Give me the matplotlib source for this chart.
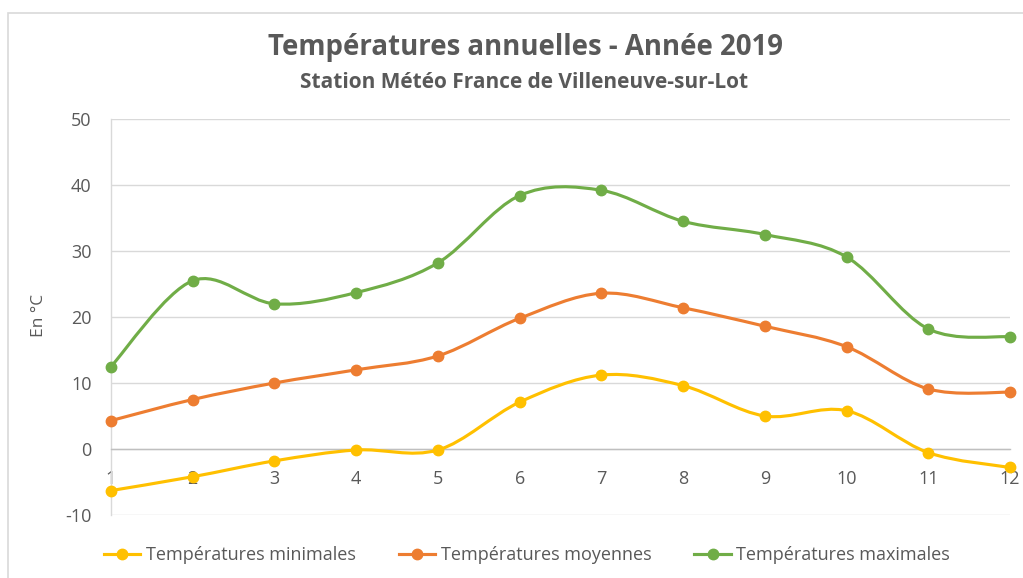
import numpy as np
import matplotlib
matplotlib.use("Agg")
from matplotlib import pyplot as plt
from matplotlib.path import Path
from matplotlib.patches import PathPatch, Rectangle
from matplotlib.lines import Line2D

plt.rcParams['font.family'] = ['Open Sans', 'DejaVu Sans']
plt.rcParams['axes.unicode_minus'] = False

months = [1, 2, 3, 4, 5, 6, 7, 8, 9, 10, 11, 12]
t_min = [-6.3, -4.2, -1.8, -0.15, -0.15, 7.1, 11.2, 9.6, 5.0, 5.8, -0.55, -2.8]
t_moy = [4.3, 7.5, 10.0, 12.0, 14.1, 19.8, 23.6, 21.4, 18.6, 15.5, 9.1, 8.6]
t_max = [12.5, 25.5, 22.0, 23.7, 28.2, 38.4, 39.2, 34.5, 32.5, 29.1, 18.2, 17.0]

series = [
    ("Températures minimales", t_min, "#FFC000"),
    ("Températures moyennes", t_moy, "#ED7D31"),
    ("Températures maximales", t_max, "#70AD47"),
]

TXT = "#595959"
GRID = "#D9D9D9"


def smooth_path(x, y):
    # excel-like smoothed line: catmull-rom turned into cubic bezier segments
    pts = np.column_stack([x, y]).astype(float)
    n = len(pts)
    verts = [pts[0]]
    codes = [Path.MOVETO]
    for i in range(n - 1):
        p0 = pts[i - 1] if i > 0 else pts[i]
        p1 = pts[i]
        p2 = pts[i + 1]
        p3 = pts[i + 2] if i + 2 < n else pts[i + 1]
        c1 = p1 + (p2 - p0) / 6.0
        c2 = p2 - (p3 - p1) / 6.0
        verts += [c1, c2, p2]
        codes += [Path.CURVE4] * 3
    return Path(verts, codes)


fig = plt.figure(figsize=(10.23, 5.78), dpi=100)
fig.patches.append(Rectangle((7.5 / 1023, -0.1), 1.2, 1 - 13 / 578 + 0.1,
                             transform=fig.transFigure, fill=False,
                             edgecolor=GRID, lw=1.2))

ax = fig.add_axes([111 / 1023, 1 - 515 / 578, (1010 - 111) / 1023, (515 - 119) / 578])
ax.set_xlim(1, 12)
ax.set_ylim(-10, 50)

for name, vals, col in series:
    ax.add_patch(PathPatch(smooth_path(months, vals), fill=False, edgecolor=col,
                           lw=2.25, capstyle='round', joinstyle='round', zorder=3))
    ax.plot(months, vals, linestyle='none', marker='o', markersize=7.5,
            color=col, zorder=4, clip_on=False)

ax.set_yticks(range(-10, 51, 10))
ax.set_xticks(months)
ax.grid(axis='y', color=GRID, lw=1)
ax.set_axisbelow(True)
for s in ['top', 'right']:
    ax.spines[s].set_visible(False)
ax.spines['left'].set_color(GRID)
ax.spines['left'].set_linewidth(1)
ax.spines['bottom'].set_position(('data', 0))
ax.spines['bottom'].set_color("#BFBFBF")
ax.spines['bottom'].set_linewidth(1)
ax.tick_params(axis='y', length=0, pad=14, labelsize=13, labelcolor=TXT)
ax.tick_params(axis='x', length=0, pad=15, labelsize=13, labelcolor=TXT)
ax.set_ylabel("En °C", fontsize=12.5, color=TXT)
ax.yaxis.set_label_coords(46.7 / 1023, 0.5, transform=fig.transFigure)
ax.yaxis.label.set_position((46.7 / 1023, 1 - 315 / 578))

fig.text(525 / 1023, 1 - 47 / 578, "Températures annuelles - Année 2019",
         ha='center', va='center', fontsize=19.9, fontweight='bold', color=TXT)
fig.text(524 / 1023, 1 - 82 / 578, "Station Météo France de Villeneuve-sur-Lot",
         ha='center', va='center', fontsize=15, fontweight='bold', color=TXT)

handles = [Line2D([], [], color=c, lw=2.25, marker='o', markersize=7.5)
           for _, _, c in series]
fig.legend(handles, [s[0] for s in series], loc='center',
           bbox_to_anchor=(527 / 1023, 1 - 555 / 578), ncol=3, frameon=False,
           fontsize=13, labelcolor=TXT, handlelength=2.0, handletextpad=0.3,
           columnspacing=2.4)

fig.savefig("out.png", dpi=100)
